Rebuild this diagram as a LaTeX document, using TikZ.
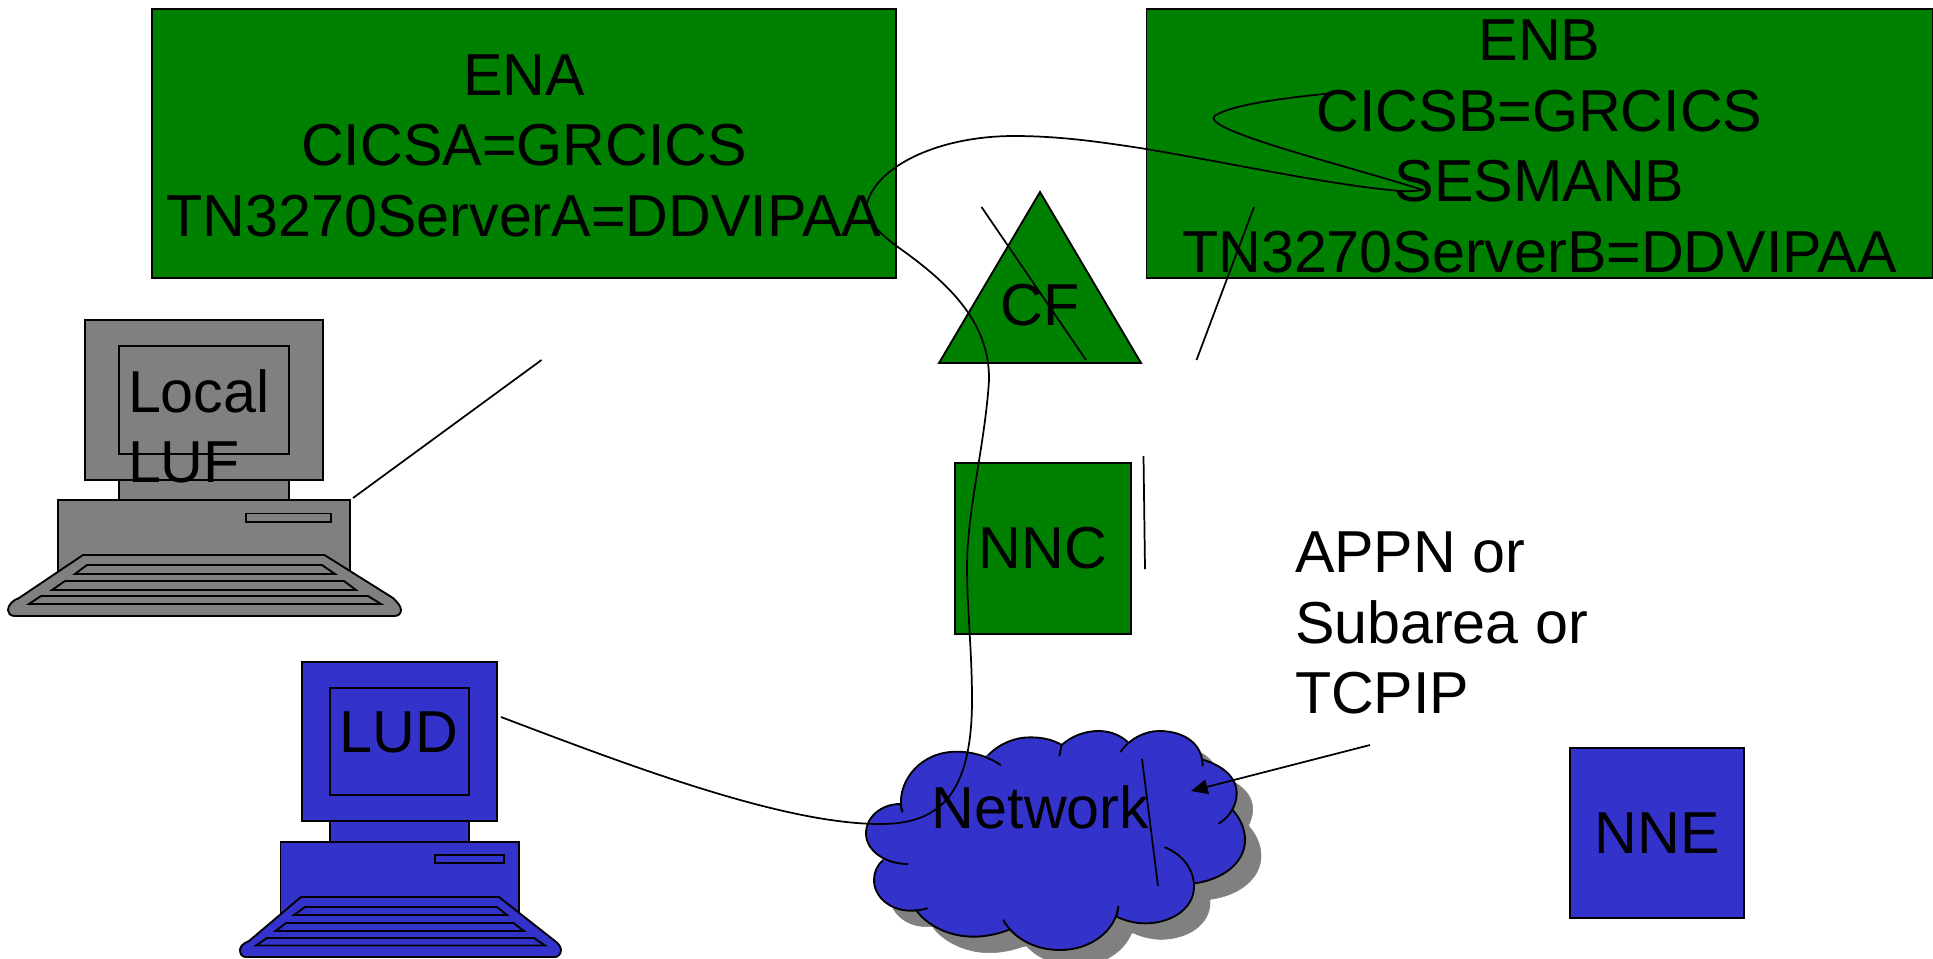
\documentclass[tikz,border=0pt]{standalone}
\usepackage{fontspec}
\setmainfont{Liberation Sans}
\usetikzlibrary{arrows.meta}
\definecolor{dgreen}{RGB}{0,128,0}
\definecolor{dblue}{RGB}{51,51,204}
\definecolor{dgray}{RGB}{128,128,128}
\tikzset{
  every node/.style={font=\fontsize{44.4}{53}\selectfont,inner sep=0pt,outer sep=0pt,text=black},
  box/.style={draw=black,line width=1.4pt,rectangle},
  shp/.style={draw=black,line width=1.4pt,line join=miter},
  conn/.style={draw=black,line width=1.3pt},
  cloudstroke/.style={draw=black,line width=1.4pt,line cap=round},
}
\newcommand{\cloudlobes}[1]{%
  \path[#1] (203,492) .. controls (140,492) and (78,455) .. (78,400) .. controls (78,350) and (125,312) .. (180,312) (180,312) -- (187,335);
  \path[#1] (187,335) .. controls (165,260) and (230,155) .. (350,155) .. controls (400,155) and (445,170) .. (482,195);
  \path[#1] (445,165) .. controls (480,130) and (525,112) .. (570,112) .. controls (610,112) and (640,120) .. (665,135) -- (658,167);
  \path[#1] (665,135) .. controls (695,108) and (735,93) .. (775,93) .. controls (810,93) and (840,105) .. (862,125);
  \path[#1] (842,155) .. controls (870,115) and (915,93) .. (958,93) .. controls (1030,93) and (1088,130) .. (1088,197);
  \path[#1] (1085,178) .. controls (1145,195) and (1190,230) .. (1190,280) .. controls (1190,315) and (1170,350) .. (1137,370);
  \path[#1] (1178,330) .. controls (1200,355) and (1215,385) .. (1215,420) .. controls (1215,490) and (1145,540) .. (1062,550);
  \path[#1] (975,442) .. controls (1030,465) and (1062,510) .. (1062,560) .. controls (1062,625) and (995,670) .. (915,670) .. controls (885,670) and (855,662) .. (830,650) -- (835,620);
  \path[#1] (835,620) .. controls (825,695) and (750,750) .. (660,750) .. controls (585,750) and (520,715) .. (490,660);
  \path[#1] (505,690) .. controls (470,703) and (435,710) .. (400,710) .. controls (325,710) and (260,675) .. (228,630);
  \path[#1] (262,625) .. controls (245,630) and (230,632) .. (212,632) .. controls (150,632) and (102,590) .. (102,540) .. controls (102,518) and (110,497) .. (128,482);
}
\newcommand{\cloudcore}[1]{%
  \path[fill=#1,draw=#1,line width=1pt] (128,482) -- (180,312) -- (445,165) -- (665,135) -- (862,125) -- (1085,178) -- (1178,330) -- (1062,550) -- (830,650) -- (505,690) -- (228,630) -- cycle;
}
\begin{document}
\begin{tikzpicture}[x=0.75pt,y=-0.75pt]
\useasboundingbox (0,0) rectangle (1933,958);
% boxes
\node[box,fill=dgreen,minimum width=744*0.75pt,minimum height=269*0.75pt,align=center] (ena) at (524,143.5) {\rule{0pt}{34pt}ENA\\CICSA=GRCICS\\TN3270ServerA=DDVIPAA};
\node[box,fill=dgreen,minimum width=786*0.75pt,minimum height=269*0.75pt,align=center] (enb) at (1539.5,143.5) {\rule{0pt}{35pt}ENB\\CICSB=GRCICS\\SESMANB\\TN3270ServerB=DDVIPAA};
\draw[shp,fill=dgreen] (1040,192) -- (1141,363) -- (939,363) -- cycle;
\node[anchor=base] (cf) at (1040,325) {CF};
\node[box,fill=dgreen,minimum width=176*0.75pt,minimum height=171*0.75pt] (nnc) at (1043,548.5) {NNC};
\node[box,fill=dblue,minimum width=174*0.75pt,minimum height=170*0.75pt] (nne) at (1657,833) {NNE};
% gray computer
\begin{scope}[shp]
\draw[fill=dgray] (119,480) rectangle (289,500);
\draw[fill=dgray] (85,320) rectangle (323,480);
\draw[fill=dgray] (119,346) rectangle (289,454);
\draw[fill=dgray] (58,500) rectangle (350,574);
\draw[fill=dgray] (246,513.5) rectangle (331,522);
\draw[fill=dgray] (83,555) -- (324.5,555) -- (393,598) .. controls (397,602) and (401,606) .. (401,610) .. controls (401,614) and (398,616) .. (394,616) -- (15,616) .. controls (10,616) and (8,613) .. (8,610) .. controls (8,605) and (13,600) .. (19,598) -- cycle;
\draw (75,574) -- (87,565) -- (322,565) -- (335,574) -- cycle;
\draw (52,590) -- (65,581) -- (344,581) -- (356,590) -- cycle;
\draw (29,604) -- (41,596) -- (368,596) -- (381,604) -- cycle;
\end{scope}
\node[anchor=base west] (luf1) at (128,412) {Local};
\node[anchor=base west] (luf2) at (128,482) {LUF};
% blue computer
\begin{scope}[shp]
\draw[fill=dblue] (330,821) rectangle (469,842);
\draw[fill=dblue] (302,662) rectangle (497,821);
\draw[fill=dblue] (330,688) rectangle (469,795);
\draw[fill=dblue] (280.5,842) rectangle (519,915);
\draw[fill=dblue] (435,855) rectangle (504,863);
\draw[fill=dblue] (301,897) -- (499,897) -- (555,941) .. controls (558,943) and (561,947) .. (561,950) .. controls (561,954) and (558,957) .. (555,957) -- (246,957) .. controls (242,957) and (240,954) .. (240,950) .. controls (240,946) and (244,943) .. (249,941) -- cycle;
\draw (294,915) -- (305,907) -- (497,907) -- (507,915) -- cycle;
\draw (275.5,931) -- (286,923) -- (513.5,923) -- (524,931) -- cycle;
\draw (256,945.5) -- (267,938) -- (534,938) -- (545,945.5) -- cycle;
\end{scope}
\node[anchor=base] (lud) at (399,752) {LUD};
% cloud
\begin{scope}[shift={(856,716)},x=0.25pt,y=-0.25pt]
\cloudlobes{fill=dgray,draw=dgray}
\cloudcore{dgray}
\end{scope}
\begin{scope}[shift={(840,700)},x=0.25pt,y=-0.25pt]
\cloudlobes{fill=dblue,draw=dblue}
\cloudcore{dblue}
\cloudlobes{cloudstroke}
\end{scope}
\node[anchor=base] (network) at (1040.5,828) {Network};
\node[anchor=base west] (appn) at (1295,572) {APPN or};
\node[anchor=base west] (subarea) at (1295,643) {Subarea or};
\node[anchor=base west] (tcpip) at (1295,713) {TCPIP};
% connectors
\coordinate (l1a) at (353,498); \coordinate (l1b) at (541.5,360);
\draw[conn] (l1a) -- (l1b);
\coordinate (l2a) at (981.5,207); \coordinate (l2b) at (1086,360);
\draw[conn] (l2a) -- (l2b);
\coordinate (l3a) at (1254,207); \coordinate (l3b) at (1196.5,360);
\draw[conn] (l3a) -- (l3b);
\coordinate (l4a) at (1143.5,456); \coordinate (l4b) at (1145,569);
\draw[conn] (l4a) -- (l4b);
\coordinate (l5a) at (1142,759); \coordinate (l5b) at (1158,886);
\draw[conn] (l5a) -- (l5b);
\coordinate (l6a) at (1370,745); \coordinate (l6b) at (1191,791);
\draw[conn,-{Triangle[length=12.5pt,width=11pt]}] (l6a) -- (l6b);
\coordinate (fa) at (501,717); \coordinate (fb) at (1333,93);
\draw[conn,line join=round] (fa) .. controls (620,762) and (780,824) .. (880,824)
 .. controls (935,824) and (972,800) .. (972,700)
 .. controls (972,650) and (967,610) .. (967,567)
 .. controls (967,510) and (985,445) .. (989,380)
 .. controls (990,320) and (945,280) .. (895,245)
 .. controls (880,233) and (866,222) .. (867,203)
 .. controls (878,165) and (940,136) .. (1014,136)
 .. controls (1060,136) and (1100,142) .. (1140,148)
 .. controls (1225,162) and (1320,183) .. (1390,190)
 .. controls (1405,192) and (1415,191) .. (1423,190)
 .. controls (1360,170) and (1280,150) .. (1235,132)
 .. controls (1215,124) and (1210,118) .. (1216,115)
 .. controls (1235,104) and (1285,98) .. (fb);
\end{tikzpicture}
\end{document}
